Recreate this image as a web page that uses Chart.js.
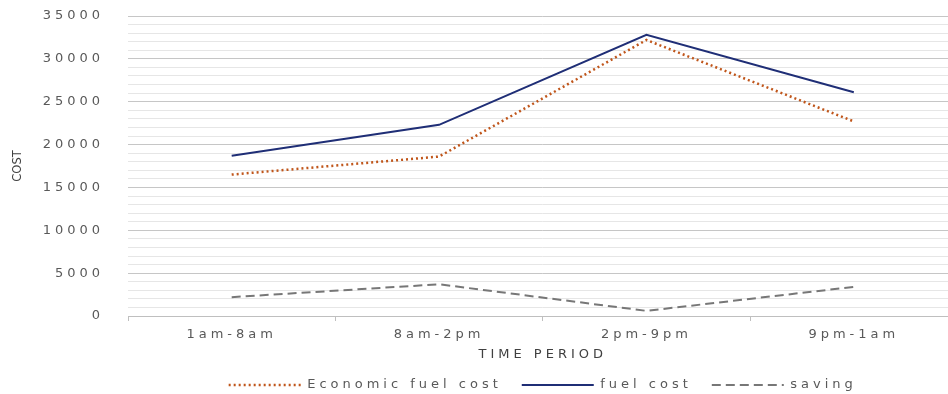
<!DOCTYPE html>
<html>
<head>
<meta charset="utf-8">
<script src="https://cdn.jsdelivr.net/npm/chart.js@4"></script>
<style>
    body { margin: 0; overflow: hidden; background: #fff; }
    #wrap { width: 960px; height: 394px; }
</style>
</head>
<body>
<div id="wrap"><canvas id="costline" width="960" height="394" style="width:960px;height:394px"></canvas></div>
<script>
var periods = ["1am-8am", "8am-2pm", "2pm-9pm", "9pm-1am"];
var economic_cost = [16500, 18600, 32200, 22700];
var fuel_cost = [18700, 22300, 32800, 26100];
var saving = [2200, 3700, 600, 3400];

var grey_text = '#595959';
Chart.defaults.font.family = "'DejaVu Sans', sans-serif";
Chart.defaults.color = grey_text;

// text in the picture is wide, so space the letters out (but not the rotated COST title)
var spacing = {
    id: 'spacing',
    beforeUpdate: function (chart) { chart.ctx.letterSpacing = '4px'; },
    beforeDraw: function (chart) {
        chart.ctx.letterSpacing = '4px';
        var ys = chart.scales.y;
        if (ys && !ys._plainTitle) {
            var orig = ys.drawTitle;
            ys.drawTitle = function () {
                this.ctx.save();
                this.ctx.letterSpacing = '0px';
                orig.apply(this, arguments);
                this.ctx.restore();
            };
            ys._plainTitle = true;
        }
    }
};

var ctx = document.getElementById("costline");
var myChart = new Chart(ctx, {
    type: 'line',
    data: {
        labels: periods,
        datasets: [{
            label: 'Economic fuel cost',
            data: economic_cost,
            borderColor: '#c0561b',
            borderWidth: 2.5,
            borderDash: [2, 3],
            pointRadius: 0
        }, {
            label: 'fuel cost',
            data: fuel_cost,
            borderColor: '#1f2e76',
            borderWidth: 2,
            pointRadius: 0
        }, {
            label: 'saving',
            data: saving,
            borderColor: '#777777',
            borderWidth: 2,
            borderDash: [9, 5],
            pointRadius: 0
        }]
    },
    options: {
        responsive: false,
        animation: false,
        layout: { padding: { top: 16, right: 2.5, left: 0, bottom: -7.5 } },
        plugins: {
            tooltip: { enabled: false },
            legend: {
                position: 'bottom',
                fullSize: false,
                labels: {
                    usePointStyle: true,
                    pointStyle: 'line',
                    pointStyleWidth: 72,
                    padding: 20,
                    color: grey_text,
                    font: { size: 13 },
                    generateLabels: function (chart) {
                        var items = Chart.defaults.plugins.legend.labels.generateLabels(chart);
                        items.forEach(function (it) {
                            var ds = chart.data.datasets[it.datasetIndex];
                            it.lineDash = ds.borderDash || [];
                            it.strokeStyle = ds.borderColor;
                            it.lineWidth = ds.borderWidth;
                        });
                        return items;
                    }
                }
            }
        },
        scales: {
            x: {
                offset: true,
                afterFit: function (s) { s.height = 42.5; },
                grid: { drawOnChartArea: false, offset: true, tickLength: 5, color: '#bfbfbf' },
                border: { color: '#bfbfbf' },
                ticks: { padding: 6, font: { size: 13 }, color: grey_text },
                title: {
                    display: true,
                    text: 'TIME PERIOD',
                    font: { size: 13 },
                    color: '#404040',
                    padding: { top: 0, bottom: -4 }
                }
            },
            y: {
                min: 0,
                max: 35000,
                afterFit: function (s) { s.width = 128; },
                grid: {
                    drawTicks: true,
                    tickLength: 21,
                    tickColor: 'rgba(0,0,0,0)',
                    color: function (c) { return c.tick.value % 5000 === 0 ? '#c6c6c6' : '#e6e6e6'; }
                },
                border: { display: false },
                ticks: {
                    stepSize: 1000,
                    autoSkip: false,
                    padding: 3,
                    font: { size: 13 },
                    color: grey_text,
                    callback: function (v) { return v % 5000 === 0 ? String(v) : ''; }
                },
                title: {
                    display: true,
                    text: 'COST',
                    font: { size: 11.5 },
                    color: '#404040',
                    padding: { top: 11, bottom: 0 }
                }
            }
        }
    },
    plugins: [spacing]
});
</script>
</body>
</html>
